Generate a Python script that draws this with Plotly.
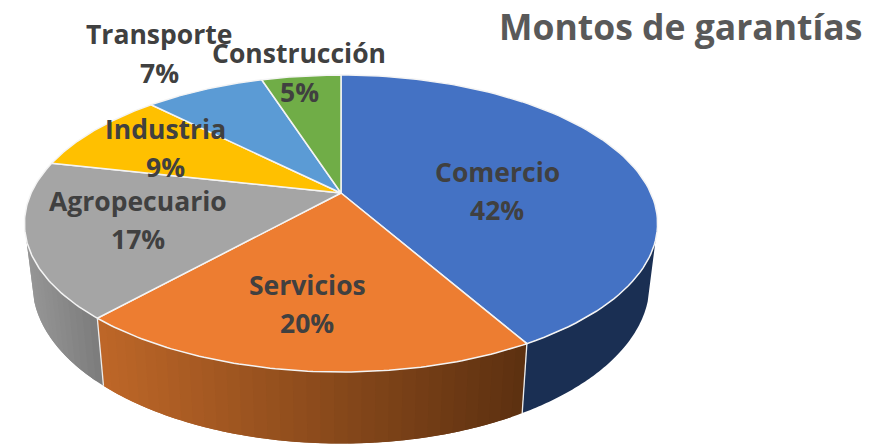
import numpy as np
import plotly.graph_objects as go

TITLE = "Montos de garantías"
categories = ["Comercio", "Servicios", "Agropecuario", "Industria", "Transporte", "Construcción"]
values = [41.8, 19.8, 16.9, 9.1, 7.45, 4.95]
top_colors = ["#4472C4", "#ED7D31", "#A5A5A5", "#FFC000", "#5B9BD5", "#70AD47"]
# wall gradient colours, left end and right end (pixel x decides the mix)
wall_left = {"Comercio": (26, 47, 83), "Servicios": (190, 103, 40), "Agropecuario": (150, 150, 150)}
wall_right = {"Comercio": (26, 47, 83), "Servicios": (92, 48, 16), "Agropecuario": (122, 122, 122)}
wall_span = {"Comercio": (520, 655), "Servicios": (100, 525), "Agropecuario": (30, 105)}
label_pos = {
    "Comercio": (497, 172, 210),
    "Servicios": (307, 285, 323),
    "Agropecuario": (138, 201, 239),
    "Industria": (165, 129, 167),
    "Transporte": (159, 34, 73),
    "Construcción": (299, 53, 92),
}

# perspective view of the disc
K = 0.2054
CX = 341


def project(theta_deg, a, b, cy):
    t = np.radians(theta_deg)
    X, Y = np.sin(t), np.cos(t)
    w = 1 + K * Y
    return CX + a * X / w, cy - b * Y / w


def top(t):
    return project(t, 309.8, 142.2, 193)


def bottom(t):
    return project(t, 302, 153, 251)


fig = go.Figure()
edges = np.concatenate([[0], np.cumsum(values)]) / sum(values) * 360
WALL_START, WALL_END = 108, 252

# side wall: overlapping bands painted in angle order so no seams appear
for i, cat in enumerate(categories):
    lo, hi = max(edges[i], WALL_START), min(edges[i + 1], WALL_END)
    if lo >= hi or cat not in wall_left:
        continue
    steps = max(1, int(hi - lo) // 2)
    if wall_left[cat] == wall_right[cat]:
        steps = 1
    ts = np.linspace(lo, hi, steps + 1)
    for j in range(steps):
        t0, t1 = ts[j], ts[min(j + 2, steps)]
        seg = np.linspace(t0, t1, 6)
        if steps == 1:
            seg = np.linspace(lo, hi, 80)
        xt, yt = top(seg)
        xb, yb = bottom(seg[::-1])
        xm = (top(ts[j])[0] + bottom(ts[j + 1])[0]) / 2
        x0, x1 = wall_span[cat]
        m = float(np.clip((xm - x0) / (x1 - x0), 0, 1))
        c = [round(l + (r - l) * m) for l, r in zip(wall_left[cat], wall_right[cat])]
        col = f"rgb({c[0]},{c[1]},{c[2]})"
        fig.add_trace(go.Scatter(
            x=np.concatenate([xt, xb]), y=np.concatenate([yt, yb]),
            mode="none", fill="toself", fillcolor=col,
            hoverinfo="skip", showlegend=False))

# white separators on the wall
for e in edges[1:]:
    if WALL_START < e < WALL_END:
        xt, yt = top(e)
        xb, yb = bottom(e)
        fig.add_trace(go.Scatter(x=[xt, xb], y=[yt, yb], mode="lines",
                                 line=dict(color="#EDEDED", width=1.3),
                                 hoverinfo="skip", showlegend=False))

# top faces
for i, cat in enumerate(categories):
    ts = np.linspace(edges[i], edges[i + 1], 90)
    xt, yt = top(ts)
    fig.add_trace(go.Scatter(
        x=np.concatenate([[CX], xt, [CX]]), y=np.concatenate([[193], yt, [193]]),
        mode="lines", fill="toself", fillcolor=top_colors[i],
        line=dict(color="#F4F4F4", width=1.5), name=cat,
        hovertemplate=f"{cat}: {values[i]:.0f}%<extra></extra>", showlegend=False))

FONT = "Open Sans"
TXT = "#404040"


def add_text(x, y, text, size, color):
    fig.add_annotation(x=x, y=y, xref="x", yref="y", text=text, showarrow=False,
                       xanchor="center", yanchor="middle",
                       font=dict(family=FONT, size=size, color=color, weight=700))


for cat, v in zip(categories, values):
    x, y1, y2 = label_pos[cat]
    add_text(x, y1, cat, 26.5, TXT)
    add_text(x, y2, f"{v:.0f}%", 26.5, TXT)

fig.add_annotation(x=680, y=26, xref="x", yref="y", text=TITLE, showarrow=False,
                   xanchor="center", yanchor="middle",
                   font=dict(family=FONT, size=35.5, color="#595959", weight=700))

fig.update_layout(
    width=876, height=444, margin=dict(l=0, r=0, t=0, b=0),
    paper_bgcolor="white", plot_bgcolor="white",
    xaxis=dict(range=[0, 876], visible=False, fixedrange=True),
    yaxis=dict(range=[444, 0], visible=False, fixedrange=True),
)
fig.write_html("out.html", config=dict(displayModeBar=False),
               post_script="document.body.style.margin='0';document.body.style.overflow='hidden';")
